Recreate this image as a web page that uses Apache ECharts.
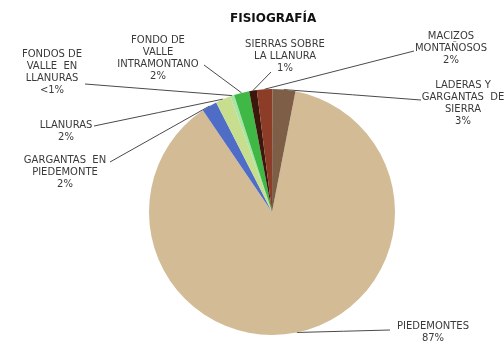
<!DOCTYPE html>
<html>
<head>
<meta charset="utf-8">
<script src="https://cdn.jsdelivr.net/npm/echarts@6/dist/echarts.min.js"></script>
<style>
  html, body { margin: 0; padding: 0; background: #fff; }
  #chart { width: 504px; height: 361px; }
</style>
</head>
<body>
<div id="chart"></div>
<script>
// Landform categories (clockwise from the top) and their shares
const categories = [
  'PIEDEMONTES',
  'GARGANTAS  EN\nPIEDEMONTE',
  'LLANURAS',
  'FONDOS DE\nVALLE  EN\nLLANURAS',
  'FONDO DE\nVALLE\nINTRAMONTANO',
  'SIERRAS SOBRE\nLA LLANURA',
  'MACIZOS\nMONTAÑOSOS',
  'LADERAS Y\nGARGANTAS  DE\nSIERRA'
];
const values = [87, 2, 2, 0.5, 2, 1, 2, 3];

const colors = [
  '#D3BC95', '#4F6CC6', '#C6DE8E', '#A9E4A6',
  '#3FB845', '#3B170C', '#8C3C27', '#7E5E47'
];

// Label anchor (centre of text block) and leader-line end for each slice
const labelSpots = [
  { x: 433, y: 332, lx: 390, ly: 330 },
  { x: 65,  y: 172, lx: 110, ly: 162 },
  { x: 66,  y: 131, lx: 94,  ly: 126 },
  { x: 52,  y: 72,  lx: 85,  ly: 84 },
  { x: 158, y: 58,  lx: 204, ly: 65 },
  { x: 285, y: 56,  lx: 271, ly: 72 },
  { x: 451, y: 48,  lx: 414, ly: 51 },
  { x: 463, y: 103, lx: 421, ly: 100 }
];

const chart = echarts.init(document.getElementById('chart'), null, { renderer: 'canvas' });

chart.setOption({
  backgroundColor: '#ffffff',
  animation: false,
  title: {
    text: 'FISIOGRAFÍA',
    left: 225,
    top: 8,
    textStyle: {
      fontFamily: 'DejaVu Sans',
      fontSize: 12,
      fontWeight: 'bold',
      color: '#111'
    }
  },
  series: [{
    type: 'pie',
    center: [272, 212],
    radius: 123,
    startAngle: 79,
    clockwise: true,
    avoidLabelOverlap: false,
    color: colors,
    data: categories.map((name, i) => ({ name: name, value: values[i] })),
    itemStyle: { borderWidth: 0 },
    label: {
      show: true,
      position: 'outside',
      fontFamily: 'DejaVu Sans',
      fontSize: 10,
      lineHeight: 12,
      color: '#3a3a3a',
      align: 'center',
      formatter: function (p) {
        const pct = p.percent < 1 ? '<1' : Math.round(p.percent);
        return p.name + '\n' + pct + '%';
      }
    },
    labelLine: {
      show: true,
      length: 10,
      length2: 10,
      lineStyle: { color: '#4a4a4a', width: 1 }
    },
    labelLayout: function (params) {
      const s = labelSpots[params.dataIndex];
      const start = params.labelLinePoints ? params.labelLinePoints[0] : [s.lx, s.ly];
      return {
        x: s.x,
        y: s.y,
        align: 'center',
        verticalAlign: 'middle',
        labelLinePoints: [
          start,
          [(start[0] + s.lx) / 2, (start[1] + s.ly) / 2],
          [s.lx, s.ly]
        ]
      };
    }
  }]
});
</script>
</body>
</html>
